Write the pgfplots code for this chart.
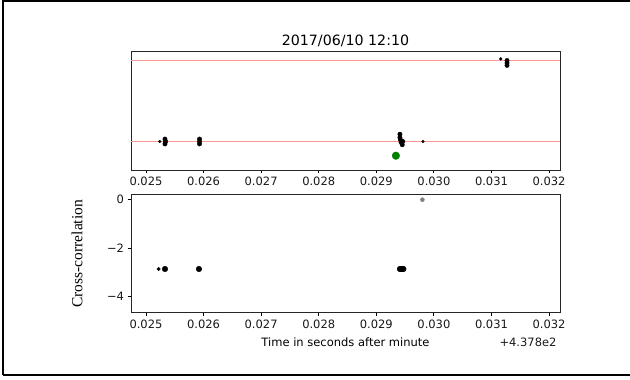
\documentclass[border=0pt]{standalone}
\usepackage{pgfplots}
\pgfplotsset{compat=1.18}
\usepackage{fontspec}
\setmainfont{DejaVu Sans}
\newfontfamily\serifl{Liberation Serif}
\definecolor{pinkline}{RGB}{255,150,150}
\definecolor{mgreen}{RGB}{0,128,0}
\definecolor{mgray}{RGB}{128,128,128}
\pgfplotsset{
  common/.style={
    scale only axis, width=429bp, height=118.3bp,
    xmin=0.02474, xmax=0.03219,
    scaled x ticks=false, scaled y ticks=false,
    xtick={0.025,0.026,0.027,0.028,0.029,0.030,0.031,0.032},
    xticklabels={0.025,0.026,0.027,0.028,0.029,0.030,0.031,0.032},
    tick align=outside, major tick length=3.5bp,
    tick style={black, line width=0.8bp},
    axis line style={line width=0.8bp, black!85},
    font=\fontsize{11.5bp}{13bp}\selectfont,
    ticklabel style={font=\fontsize{11.5bp}{13bp}\selectfont, text=black!90},
    xtick pos=bottom, ytick pos=left,
    /pgf/number format/assume math mode=true,
    clip=false,
  },
}
\begin{document}
\begin{tikzpicture}
\useasboundingbox (0,0) rectangle (630bp,380bp);
\draw[line width=1.6bp, black] (3bp,5bp) -- (3bp,379bp) -- (630bp,379bp);
\draw[line width=1.6bp, black] (3bp,5bp) -- (630bp,5bp);
% top axis (line levels at 1 and 2)
\begin{axis}[common, at={(131bp,210bp)}, anchor=south west,
  ymin=0.6481, ymax=2.1086, ytick=\empty,
  title={2017/06/10 12:10},
  title style={font=\fontsize{14.2bp}{16bp}\selectfont, at={([yshift=4.7bp]axis description cs:0.5,1)}, anchor=center}]
\addplot[color=pinkline, line width=1bp, mark=none] coordinates {(0.02474,2) (0.03219,2)};
\addplot[color=pinkline, line width=1bp, mark=none] coordinates {(0.02474,1) (0.03219,1)};
\addplot[only marks, mark=*, mark size=1.4bp, black] coordinates {
 (0.02524,1) (0.02981,1) (0.03116,2.02)};
\addplot[only marks, mark=*, mark size=2.2bp, black] coordinates {
 (0.02533,1.03) (0.02533,0.97) (0.02534,1)
 (0.02593,1.03) (0.02593,0.97) (0.02593,1)
 (0.02941,1.09) (0.02941,1.05) (0.02942,1.02) (0.02943,0.99)
 (0.02945,0.96) (0.02944,1.0) (0.02946,1.0)
 (0.03127,2.0) (0.03127,1.97) (0.03127,1.94)};
\addplot[only marks, mark=*, mark size=3.8bp, mgreen, mark options={draw=mgreen,fill=mgreen}] coordinates {(0.02934,0.8246)};
\end{axis}
% bottom axis
\begin{axis}[common, at={(131bp,67.3bp)}, anchor=south west,
  height=118bp,
  ymin=-4.68, ymax=0.207,
  ytick={-4,-2,0}, yticklabels={−4,−2,0},
  xlabel={Time in seconds after minute},
  xlabel style={at={([yshift=-29.3bp]axis description cs:0.5,0)}, anchor=center},
  ylabel={\serifl\fontsize{15.5bp}{17bp}\selectfont Cross-correlation},
  ylabel style={at={([xshift=-54bp]axis description cs:0,0.5)}, anchor=center, rotate=0}]
\addplot[only marks, mark=*, mark size=1.8bp, black] coordinates {(0.02522,-2.87)};
\addplot[only marks, mark=*, mark size=2.8bp, black] coordinates {
 (0.02533,-2.87) (0.02592,-2.87) (0.02941,-2.87) (0.02943,-2.87) (0.02945,-2.87) (0.02947,-2.87)};
\addplot[only marks, mark=*, mark size=2bp, mgray, mark options={draw=mgray,fill=mgray}] coordinates {(0.02980,0)};
\node[anchor=east, font=\fontsize{11.5bp}{13bp}\selectfont, text=black!90] at (rel axis cs:1,0) [yshift=-29.3bp] {+4.378e2};
\end{axis}
\end{tikzpicture}
\end{document}
